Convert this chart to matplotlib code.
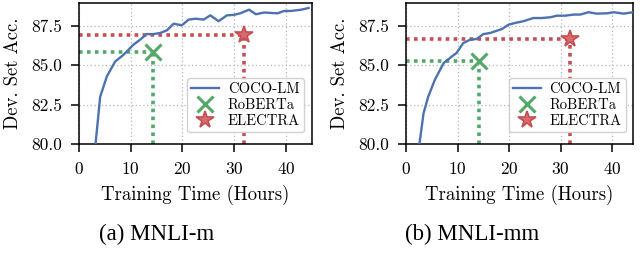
"""Dev-set accuracy vs. training time on MNLI-m / MNLI-mm."""

import matplotlib
matplotlib.use("Agg")
import matplotlib.pyplot as plt

# --- data ---
m_hours = [3.2, 4.1, 5.4, 7.0, 8.6, 10.5, 11.8, 13.1, 14.4, 15.7, 17.0, 18.3,
           19.9, 21.2, 22.5, 24.1, 25.4, 27.0, 28.6, 29.9, 31.2, 32.9, 34.2,
           35.8, 38.4, 39.7, 41.0, 43.0, 44.4]
m_acc = [80.0, 83.0, 84.3, 85.24, 85.66, 86.3, 86.62, 86.98, 86.98, 87.05,
         87.22, 87.64, 87.54, 87.9, 87.96, 87.9, 88.17, 87.8, 88.17, 88.2,
         88.3, 88.53, 88.24, 88.35, 88.3, 88.45, 88.45, 88.53, 88.64]

mm_hours = [2.6, 3.4, 4.3, 5.6, 7.3, 8.9, 9.8, 11.1, 12.4, 13.7, 15.0, 16.3,
            18.6, 19.9, 21.2, 22.8, 24.7, 26.3, 28.0, 29.3, 30.9, 32.5, 33.8,
            35.4, 37.0, 39.0, 40.3, 42.2, 44.1]
mm_acc = [80.0, 81.95, 83.0, 84.08, 85.14, 85.56, 85.78, 86.41, 86.62, 86.67,
          86.98, 87.05, 87.3, 87.58, 87.69, 87.8, 88.0, 88.0, 88.05, 88.15,
          88.15, 88.22, 88.22, 88.37, 88.28, 88.3, 88.37, 88.28, 88.37]

roberta = {"m": (14.4, 85.84), "mm": (14.2, 85.24)}
electra = {"m": (32.0, 86.94), "mm": (31.8, 86.67)}

panels = [
    ("m", m_hours, m_acc, "(a) MNLI-m", 45.0),
    ("mm", mm_hours, mm_acc, "(b) MNLI-mm", 44.1),
]

BLUE = "#4C72B0"
GREEN = "#55A868"
RED = "#C44E52"

plt.rcParams.update({
    "font.family": "serif",
    "font.serif": ["cmr10"],
    "axes.formatter.use_mathtext": True,
    "font.size": 12.5,
    "axes.linewidth": 1.1,
})

fig = plt.figure(figsize=(6.4, 2.8), dpi=100)
boxes = [[0.1234, 0.4857, 0.3636, 0.5033], [0.6344, 0.4857, 0.3552, 0.5033]]
caption_x = [0.2445, 0.7375]

for (key, hrs, acc, caption, xmax), box, cx in zip(panels, boxes, caption_x):
    ax = fig.add_axes(box)
    ax.grid(True, color="#b5b5b5", linestyle=(0, (1, 2)), linewidth=0.9)
    ax.set_axisbelow(True)

    rx, ry = roberta[key]
    ex, ey = electra[key]
    dots = (0, (1, 1.2))
    ax.plot([0, rx], [ry, ry], color=GREEN, lw=2.6, linestyle=dots, zorder=2)
    ax.plot([rx, rx], [80, ry], color=GREEN, lw=2.6, linestyle=dots, zorder=2)
    ax.plot([0, ex], [ey, ey], color=RED, lw=2.6, linestyle=dots, zorder=2)
    ax.plot([ex, ex], [80, ey], color=RED, lw=2.6, linestyle=dots, zorder=2)

    ax.plot(hrs, acc, color=BLUE, lw=1.7, label="COCO-LM", zorder=3)
    ax.plot([rx], [ry], linestyle="none", marker="x", color=GREEN,
            markersize=11, markeredgewidth=2.2, label="RoBERTa", zorder=4)
    ax.plot([ex], [ey], linestyle="none", marker="*", color=RED,
            markerfacecolor="#d96a6e", markeredgecolor=RED,
            markersize=13, markeredgewidth=1.2, label="ELECTRA", zorder=4)

    ax.set_xlim(0, xmax)
    ax.set_ylim(80, 88.95)
    ax.set_xticks([0, 10, 20, 30, 40])
    ax.set_yticks([80.0, 82.5, 85.0, 87.5])
    ax.set_yticklabels(["80.0", "82.5", "85.0", "87.5"])
    ax.tick_params(axis="both", labelsize=12.5, length=6, width=1.1)
    ax.tick_params(axis="x", pad=6)
    ax.tick_params(axis="y", pad=6)
    ax.set_xlabel("Training Time (Hours)", fontsize=13.5, labelpad=6)
    ax.set_ylabel("Dev. Set Acc.", fontsize=13.5, labelpad=7)

    ax.legend(loc="lower right", fontsize=10.5, frameon=True, fancybox=True,
              framealpha=0.9, edgecolor="#cccccc", handlelength=1.9,
              borderpad=0.3, labelspacing=0.15, handletextpad=0.6,
              bbox_to_anchor=(1.0, 0.03))

    fig.text(cx, 0.163, caption, ha="center", va="center", fontsize=16.5,
             family="Liberation Serif")

fig.savefig("out.png", dpi=100)
